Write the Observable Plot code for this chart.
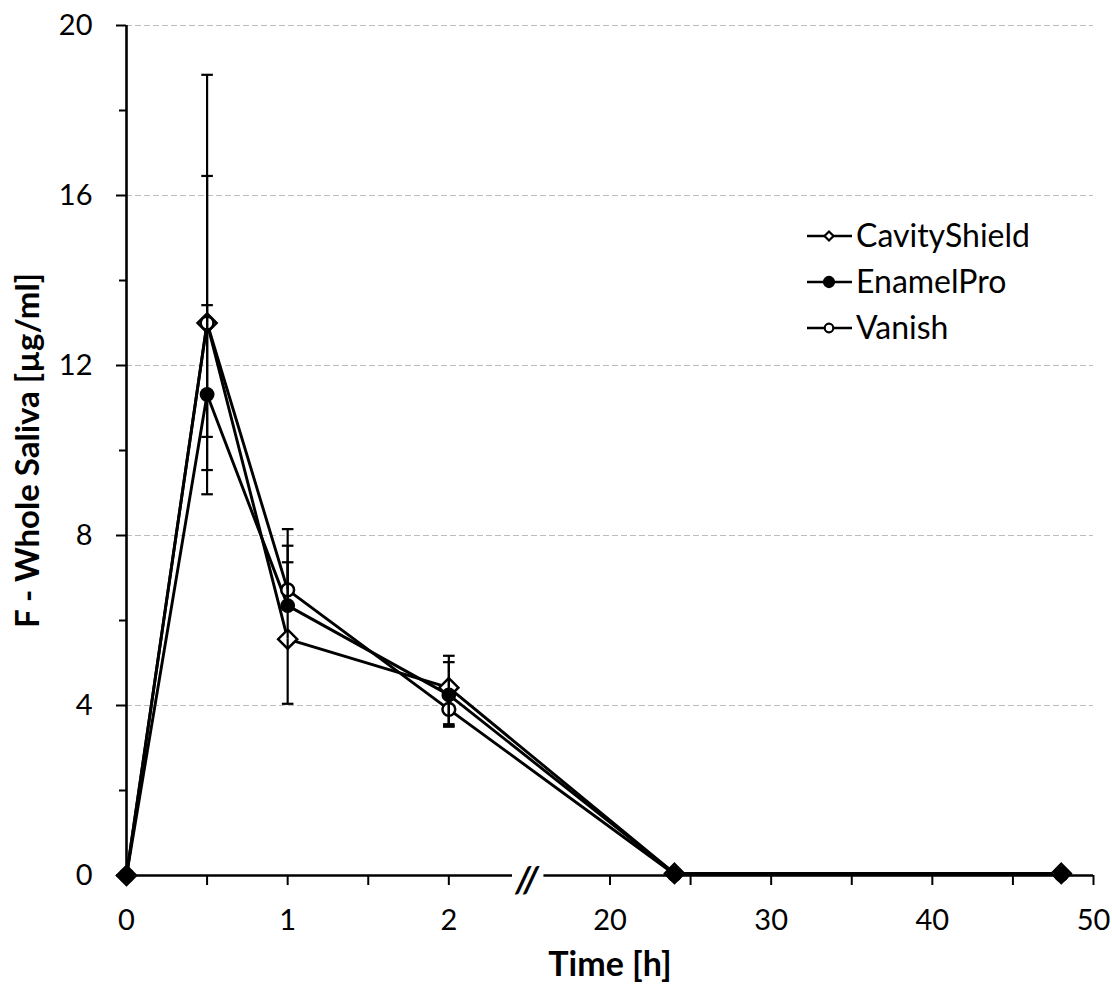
<!DOCTYPE html>
<html><head><meta charset="utf-8">
<script src="https://cdn.jsdelivr.net/npm/d3@7"></script>
<script src="https://cdn.jsdelivr.net/npm/@observablehq/plot@0.6"></script>
<style>
body{margin:0;background:#fff;}
#chart{position:relative;width:1112px;height:995px;font-family:Lato, sans-serif;}
#legend{position:absolute;left:0;top:0;}
</style></head><body>
<div id="chart"></div>
<script>
// ---- data ----
const times = [0, 0.5, 1, 2, 24, 48];
const seriesNames = ["CavityShield", "EnamelPro", "Vanish"];
const cavityShield = [0, 13.0, 5.56, 4.42, 0.05, 0.05];
const enamelPro    = [0, 11.32, 6.35, 4.25, 0.05, 0.05];
const vanish       = [0, 13.0, 6.72, 3.91, 0.03, 0.03];
// error bar ends (null = no bar)
const cavityShieldHi = [null, 16.46, 7.37, 5.17, null, null];
const cavityShieldLo = [null, 9.54, 4.04, 3.56, null, null];
const enamelProHi    = [null, 13.42, 7.76, 5.02, null, null];
const enamelProLo    = [null, 8.97, null, 3.50, null, null];
const vanishHi       = [null, 18.84, 8.15, 4.30, null, null];
const vanishLo       = [null, 10.32, null, 3.52, null, null];
// ticks (in hours)
const xMajorTicks = [0, 1, 2, 20, 30, 40, 50];
const xMinorTicks = [0.5, 1.5, 25, 35, 45];
const yMajorTicks = [0, 4, 8, 12, 16, 20];
const yMinorTicks = [2, 6, 10, 14, 18];
const gridTicks = [4, 8, 12, 16, 20];

// broken time axis: 0–2 h at one unit per hour, 20–50 h at one unit per 10 h
const toU = t => t <= 2 ? t : t >= 20 ? 3 + (t - 20) / 10 : 2 + (t - 2) / 18;
const fromU = u => u <= 2 ? u : u >= 3 ? 20 + (u - 3) * 10 : 2 + (u - 2) * 18;
const xAxisSegments = [[0, 2.395], [2.59, 6]];
const xBreakMark = 2.485;

const values = {CavityShield: cavityShield, EnamelPro: enamelPro, Vanish: vanish};
const his = {CavityShield: cavityShieldHi, EnamelPro: enamelProHi, Vanish: vanishHi};
const los = {CavityShield: cavityShieldLo, EnamelPro: enamelProLo, Vanish: vanishLo};
const rows = seriesNames.flatMap(s => times.map((t, i) => ({series: s, t, u: toU(t), v: values[s][i], hi: his[s][i], lo: los[s][i]})));
const errSegs = rows.flatMap(d => [
  d.hi != null ? {u: d.u, y1: d.v, y2: d.hi} : null,
  d.lo != null ? {u: d.u, y1: d.v, y2: d.lo} : null
].filter(Boolean));
const capSymbol = {draw(ctx, size) { const w = Math.sqrt(size / Math.PI); ctx.moveTo(-w, 0); ctx.lineTo(w, 0); }};

const W = 1112, H = 995, ML = 126, MR = 19, MT = 25, MB = 120;

const plot = Plot.plot({
  width: W, height: H,
  marginLeft: ML, marginRight: MR, marginTop: MT, marginBottom: MB,
  style: {fontFamily: "Lato, sans-serif", color: "black", background: "white", overflow: "visible"},
  x: {domain: [toU(0), toU(50)]},
  y: {domain: [0, 20]},
  marks: [
    Plot.gridY(gridTicks, {stroke: "#bdbdbd", strokeOpacity: 1, strokeDasharray: "6,3", strokeWidth: 1}),
    Plot.axisY(yMinorTicks, {tickSize: 7, tickFormat: () => "", strokeWidth: 2, label: null}),
    Plot.axisY(yMajorTicks, {tickSize: 10, tickPadding: 24, fontSize: 29, strokeWidth: 2, label: null}),
    Plot.axisX(xMinorTicks.map(toU), {tickSize: 10, tickFormat: () => "", strokeWidth: 2, label: null}),
    Plot.axisX(xMajorTicks.map(toU), {tickSize: 10, tickPadding: 24, fontSize: 29, strokeWidth: 2, label: null, tickFormat: u => String(Math.round(fromU(u)))}),
    Plot.ruleX([0], {stroke: "black", strokeWidth: 2.6}),
    Plot.ruleY(xAxisSegments, {x1: d => d[0], x2: d => d[1], y: () => 0, stroke: "black", strokeWidth: 2.6}),
    Plot.text([xBreakMark], {x: d => d, y: () => 0, text: () => "//", fontSize: 36, fontWeight: "bold", fontStyle: "italic", dy: 5, fill: "black"}),
    Plot.line(rows, {x: "u", y: "v", z: "series", stroke: "black", strokeWidth: 2.9}),
    Plot.dot(rows.filter(d => d.series === "CavityShield"), {x: "u", y: "v", symbol: "diamond2", r: 8.6, fill: "white", stroke: "black", strokeWidth: 2.5}),
    Plot.dot(rows.filter(d => d.series === "Vanish"), {x: "u", y: "v", symbol: "circle", r: 6.4, fill: "white", stroke: "black", strokeWidth: 2.5}),
    Plot.dot(rows.filter(d => d.series === "EnamelPro"), {x: "u", y: "v", symbol: "circle", r: 7.4, fill: "black", stroke: "none"}),
    Plot.ruleX(errSegs, {x: "u", y1: "y1", y2: "y2", stroke: "black", strokeWidth: 2.2}),
    Plot.dot(errSegs, {x: "u", y: "y2", symbol: capSymbol, r: 5.8, stroke: "black", strokeWidth: 2.2, fill: "none"}),
    Plot.text(["Time [h]"], {frameAnchor: "bottom", dy: 100, fontWeight: "bold", fontSize: 34, fill: "black"}),
    Plot.text(["F - Whole Saliva [µg/ml]"], {frameAnchor: "left", textAnchor: "middle", dx: -98, rotate: -90, fontWeight: "bold", fontSize: 33, fill: "black"})
  ]
});
const chart = document.getElementById("chart");
chart.appendChild(plot);

// legend overlay
const legendSymbols = {CavityShield: {type: d3.symbolDiamond2, size: 52, fill: "white"},
                       EnamelPro: {type: d3.symbolCircle, size: 80, fill: "black"},
                       Vanish: {type: d3.symbolCircle, size: 58, fill: "white"}};
const lg = d3.select(chart).append("svg").attr("id", "legend").attr("width", W).attr("height", H)
  .style("pointer-events", "none");
const item = lg.selectAll("g").data(seriesNames).join("g")
  .attr("transform", (d, i) => `translate(807,${236 + i * 46})`);
item.append("line").attr("x1", 0).attr("x2", 45).attr("stroke", "black").attr("stroke-width", 2.7);
item.append("path").attr("transform", "translate(22,0)")
  .attr("d", d => d3.symbol(legendSymbols[d].type, legendSymbols[d].size)())
  .attr("fill", d => legendSymbols[d].fill).attr("stroke", "black").attr("stroke-width", 2.2);
item.append("text").attr("x", 49).attr("dy", "0.35em").text(d => d)
  .attr("font-family", "Lato, sans-serif").attr("font-size", 32).attr("fill", "black");
</script>
</body></html>
